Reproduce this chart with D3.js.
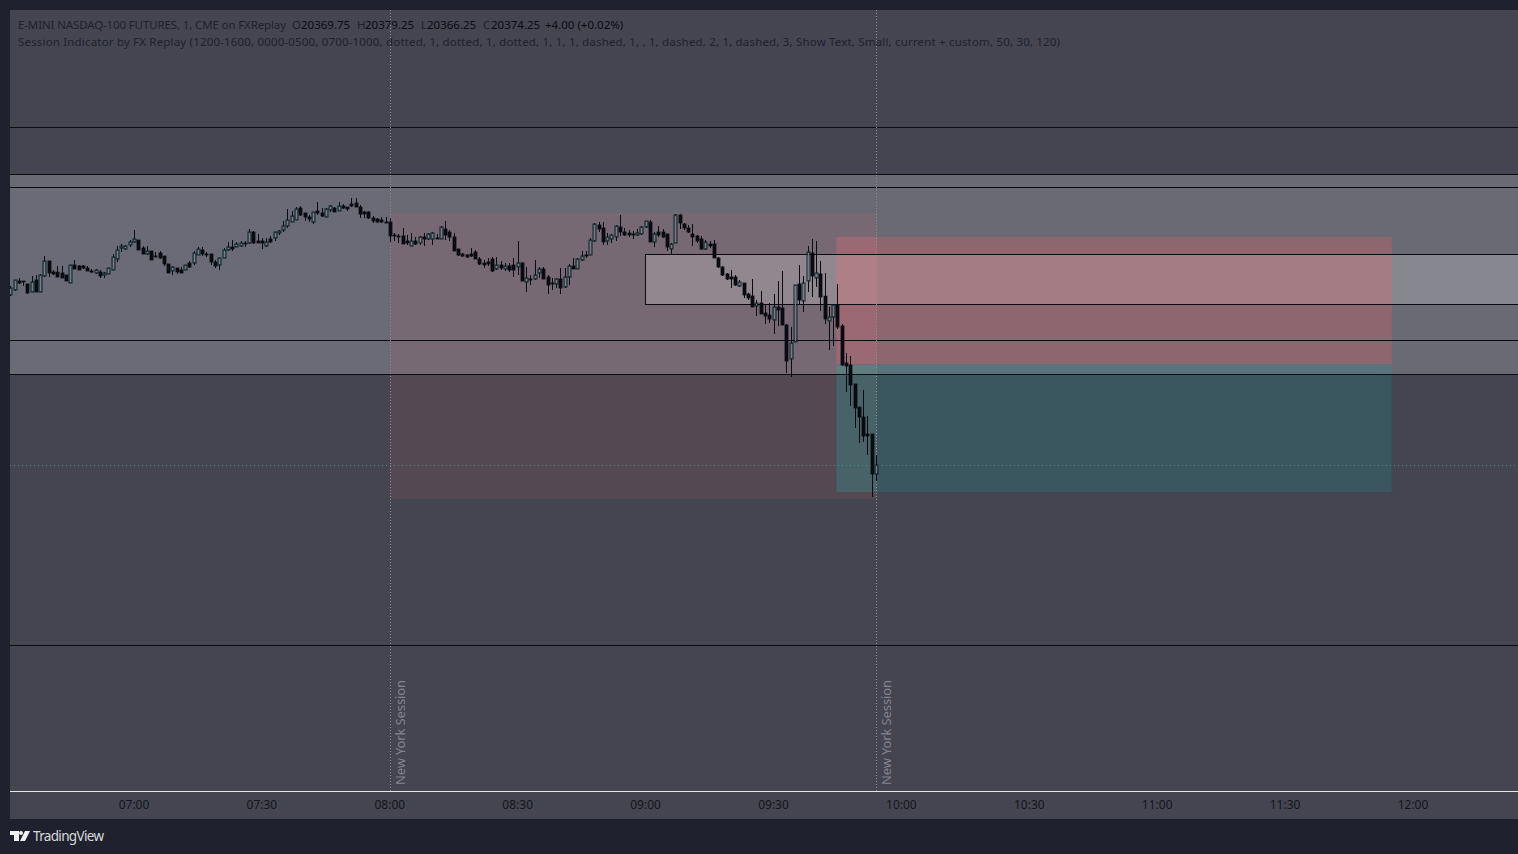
<!DOCTYPE html>
<html>
<head>
<meta charset="utf-8">
<script src="https://cdn.jsdelivr.net/npm/d3@7"></script>
<style>
html, body { margin: 0; padding: 0; background: #1f212e; overflow: hidden; }
svg { display: block; }
</style>
</head>
<body>
<script>
// prices are points above this base
const priceBase = 20300;
const firstMinute = 391; // 06:31

const opens = [
  159.25,161.75,166.25,166.25,164.75,160.75,166.75,160.75,168.75,176.25,
  170.75,170.75,170.25,169.25,165.25,174.25,173.75,173.75,172.75,171.25,
  170.25,170.75,169.25,169.75,171.75,177.25,182.75,182.25,184.25,185.75,
  186.75,182.75,179.75,181.25,178.75,180.25,178.75,174.75,171.25,172.75,
  171.75,171.75,175.25,175.25,179.25,181.75,179.75,179.75,175.75,174.25,
  177.75,181.75,183.25,183.25,183.75,185.25,185.25,190.75,186.25,186.25,
  183.75,187.25,187.75,190.25,191.75,193.75,195.75,196.75,202.75,200.25,
  198.25,195.75,201.25,200.25,198.25,201.75,202.75,201.25,203.75,203.25,
  204.75,205.25,203.25,200.75,200.75,197.75,197.25,196.75,195.75,195.75,
  189.25,188.75,188.75,186.25,183.75,186.25,185.25,188.25,187.25,187.25,
  187.75,187.25,192.25,190.75,188.25,182.25,179.75,179.25,179.75,180.75,
  177.25,175.25,175.75,177.25,172.25,174.25,172.25,173.75,174.25,173.25,
  175.25,165.75,167.25,167.25,170.25,172.25,168.25,165.25,164.75,167.25,
  163.25,168.25,173.75,172.25,176.75,179.25,179.25,186.25,194.25,192.75,
  186.25,187.25,188.25,193.25,190.75,190.25,189.75,189.25,189.75,193.25,
  195.75,185.75,190.75,190.75,189.75,182.25,185.25,199.25,194.75,192.75,
  189.75,188.75,187.25,182.25,184.75,184.75,177.75,173.25,169.75,168.25,
  168.25,163.75,165.25,159.75,158.75,153.75,155.25,150.25,149.25,146.75,
  153.25,152.75,144.25,127.25,135.75,164.75,156.25,166.25,180.25,167.75,
  169.75,158.75,146.25,148.25,154.25,143.75,125.25,124.25,114.75,103.25,
  98.25,89.75,89.75,69.75
];
const highs = [
  163.75,166.75,167.75,166.25,164.75,168.75,169.25,169.75,178.75,176.25,
  171.75,173.75,173.75,169.25,174.25,176.75,174.25,174.25,173.75,172.25,
  172.25,171.75,170.75,172.75,179.75,183.75,184.75,184.25,186.75,191.75,
  186.75,183.75,183.75,181.25,180.75,181.25,178.75,174.75,173.75,172.75,
  173.25,174.25,176.25,181.25,183.25,183.25,180.75,179.75,176.75,177.75,
  182.75,185.75,186.75,185.75,186.25,186.25,192.25,191.25,189.75,187.75,
  187.75,188.75,190.75,191.75,196.25,202.25,201.25,203.25,203.75,200.25,
  199.25,200.75,205.75,202.75,202.75,204.25,203.25,205.75,204.75,203.25,
  207.75,207.75,204.25,201.25,201.25,198.75,197.75,198.25,198.25,197.75,
  190.25,189.75,192.75,189.25,190.25,188.25,188.75,190.25,190.25,190.75,
  189.75,193.75,196.25,191.75,190.25,182.25,180.25,179.75,182.75,181.75,
  178.25,176.75,177.75,178.25,178.25,176.25,175.25,175.25,177.75,186.25,
  175.75,173.25,169.25,176.75,173.25,173.25,169.25,167.75,167.75,172.75,
  172.75,174.75,177.75,177.75,181.25,181.25,187.75,195.25,195.75,195.75,
  190.25,189.75,194.25,199.25,192.75,191.75,191.25,192.25,193.75,196.25,
  196.75,190.75,193.75,192.25,189.75,185.25,199.75,199.75,195.25,194.25,
  194.75,189.25,188.75,186.75,186.25,186.75,178.25,173.75,170.25,171.75,
  169.25,166.75,165.25,160.25,167.25,156.75,161.25,154.75,155.25,159.75,
  166.25,171.25,144.75,143.25,164.25,174.25,168.75,183.75,187.25,186.25,
  176.25,170.25,153.25,154.25,164.75,144.75,130.25,128.75,114.75,103.25,
  111.75,98.75,89.75,79.25
];
const lows = [
  158.75,161.25,164.75,163.75,159.75,160.75,160.75,160.75,168.25,168.25,
  169.25,168.25,167.75,166.25,165.25,172.25,171.75,172.25,171.25,170.25,
  169.75,167.75,167.75,169.75,171.75,175.75,180.75,181.75,183.25,185.25,
  181.75,179.75,179.25,176.75,178.25,177.25,173.75,170.25,169.25,169.75,
  170.25,171.75,172.75,174.25,179.25,178.75,178.25,174.25,172.75,171.75,
  177.75,181.25,181.25,183.25,183.25,183.25,184.75,184.75,185.25,182.25,
  183.25,185.25,186.25,189.25,190.75,192.75,195.75,196.75,198.75,196.25,
  195.75,194.75,199.25,198.25,198.25,200.75,200.75,201.25,202.25,201.25,
  203.25,203.25,197.75,197.75,197.25,195.25,195.25,195.25,195.25,185.75,
  186.25,185.25,184.75,184.25,183.75,184.25,184.25,183.75,186.75,184.25,
  187.25,187.25,186.75,186.25,181.25,178.75,178.25,177.75,178.25,177.25,
  174.25,172.75,173.75,170.75,171.75,171.75,171.25,170.75,168.25,169.25,
  166.25,160.75,164.25,166.75,167.75,167.25,159.75,161.75,162.75,159.75,
  162.75,164.25,172.25,172.25,176.25,177.75,179.25,185.75,190.75,184.25,
  184.25,185.25,186.25,188.75,188.75,188.25,187.25,188.75,189.25,192.75,
  185.75,183.25,188.25,187.75,181.25,179.75,185.25,192.25,191.75,190.25,
  183.75,185.25,181.75,181.75,182.75,177.75,172.75,168.75,166.75,162.75,
  163.75,163.25,157.75,156.75,153.25,148.75,149.75,144.75,145.25,139.75,
  143.75,144.25,120.25,118.25,135.75,154.25,150.75,160.75,158.25,163.25,
  151.25,144.75,131.75,133.75,142.25,123.75,110.75,103.75,92.75,85.25,
  85.75,79.25,58.25,66.25
];
const closes = [
  162.75,166.75,165.25,165.75,160.25,165.75,160.75,169.25,176.25,170.25,
  169.75,168.25,167.75,166.25,174.25,172.25,171.75,172.75,171.25,170.75,
  171.75,168.75,170.25,172.75,178.25,181.75,183.75,183.75,185.75,187.25,
  181.75,179.75,181.25,176.75,178.25,177.75,174.75,170.25,173.25,170.75,
  170.25,174.25,173.25,180.25,182.25,179.75,179.25,175.75,173.75,177.75,
  181.75,183.25,182.25,184.75,185.25,184.75,190.75,185.25,185.25,185.25,
  185.75,185.75,190.75,191.25,193.75,196.75,198.75,202.25,199.25,198.25,
  197.25,200.75,200.25,198.75,202.25,203.75,200.75,203.75,202.75,202.25,
  203.75,203.25,199.75,199.75,197.75,196.25,195.75,195.75,195.25,188.75,
  188.75,188.25,184.75,185.25,186.25,184.75,188.25,187.25,189.75,190.25,
  187.25,193.25,189.25,188.25,181.25,179.25,178.75,178.25,178.75,177.25,
  174.75,174.25,174.75,171.25,174.25,172.75,173.75,171.75,171.75,175.25,
  166.25,167.75,166.75,169.25,172.25,167.25,164.25,164.75,167.25,162.75,
  168.25,173.75,172.25,177.25,178.75,178.75,186.75,194.75,192.25,185.75,
  188.25,189.25,193.75,190.75,189.25,189.25,189.25,190.25,193.25,196.25,
  185.75,189.75,189.25,188.25,183.25,184.75,199.25,195.25,192.75,190.75,
  188.25,186.25,182.25,185.75,183.75,177.75,173.25,169.25,167.25,167.25,
  164.25,165.75,159.25,157.75,153.25,155.25,149.75,148.75,147.25,153.25,
  151.75,144.25,126.25,135.25,164.25,156.75,165.25,180.75,168.75,170.25,
  158.25,147.25,148.25,154.25,143.25,124.25,123.75,114.25,102.75,98.25,
  88.75,88.75,69.75,74.25
];

// horizontal levels, points above base
const levels = [243.25, 219.75, 213.25, 136.75, 119.75, -15.75];
// minutes since midnight
const axisTicks = [420, 450, 480, 510, 540, 570, 600, 630, 660, 690, 720];
const sessionMarks = [480, 594];
const sessionLabel = "New York Session";
const lastClose = 74.25;

// zones: [from minute, to minute, top, bottom, fill]
const zones = [
  [380, 760, 219.75, 119.75, "rgba(255,255,255,0.204)"],
  [380, 480, 213.25, 119.75, "rgba(130,150,220,0.035)"],
  [480, 594.25, 200.25, 57.25, "rgba(255,100,100,0.085)"],
  [540, 760, 179.75, 154.75, "rgba(255,255,255,0.2)"],
  [584.75, 715, 188.25, 124.75, "rgba(255,90,100,0.24)"],
  [584.75, 715, 124.25, 60.75, "rgba(15,160,160,0.19)"],
  [584.75, 594.25, 188.25, 124.75, "rgba(255,190,190,0.05)"],
  [584.75, 594.25, 124.25, 60.75, "rgba(90,230,180,0.08)"]
];
const rectBorder = [540, 760, 179.75, 154.75];

const legendLine1 = [
  ["O", 292, "#20212c"], ["20369.75", 301, "#0b0b12"],
  ["H", 357, "#20212c"], ["20379.25", 365, "#0b0b12"],
  ["L", 421, "#20212c"], ["20366.25", 427, "#0b0b12"],
  ["C", 483, "#20212c"], ["20374.25", 491, "#0b0b12"],
  ["+4.00 (+0.02%)", 545, "#0b0b12"]
];
const legendTitle = "E-MINI NASDAQ-100 FUTURES, 1, CME on FXReplay";
const legendLine2 = "Session Indicator by FX Replay (1200-1600, 0000-0500, 0700-1000, dotted, 1, dotted, 1, dotted, 1, 1, 1, dashed, 1, , 1, dashed, 2, 1, dashed, 3, Show Text, Small, current + custom, 50, 30, 120)";

const width = 1518, height = 854;
const plot = {left: 10, top: 10, right: 1518, bottom: 791, panelBottom: 819};

const day = m => new Date(2024, 0, 15, 0, Math.floor(m), (m % 1) * 60);

const x = d3.scaleTime()
    .domain([day(420), day(720)])
    .range([134, 1413]);

// 2px per point
const y = d3.scaleLinear()
    .domain([306.75, -93.25])
    .range([0, 800]);

const candles = opens.map((o, i) => ({
  minute: firstMinute + i, o, h: highs[i], l: lows[i], c: closes[i]
}));

const svg = d3.select("body").append("svg")
    .attr("width", width)
    .attr("height", height)
    .attr("font-family", "'Noto Sans', sans-serif");

svg.append("defs").append("clipPath")
    .attr("id", "plot-clip")
  .append("rect")
    .attr("x", plot.left)
    .attr("y", plot.top)
    .attr("width", plot.right - plot.left)
    .attr("height", plot.bottom - plot.top);

svg.append("rect")
    .attr("width", width)
    .attr("height", height)
    .attr("fill", "#1f212e");

svg.append("rect")
    .attr("x", plot.left)
    .attr("y", plot.top)
    .attr("width", plot.right - plot.left)
    .attr("height", plot.panelBottom - plot.top)
    .attr("fill", "#444551");

const chart = svg.append("g").attr("clip-path", "url(#plot-clip)");

chart.append("g")
  .selectAll("rect")
  .data(zones)
  .join("rect")
    .attr("x", d => x(day(d[0])))
    .attr("y", d => y(d[2]))
    .attr("width", d => x(day(d[1])) - x(day(d[0])))
    .attr("height", d => y(d[3]) - y(d[2]))
    .attr("fill", d => d[4]);

chart.append("g")
    .attr("stroke", "#0b0b12")
    .attr("stroke-width", 1)
  .selectAll("line")
  .data(levels)
  .join("line")
    .attr("x1", plot.left)
    .attr("x2", plot.right)
    .attr("y1", d => Math.round(y(d)) + 0.5)
    .attr("y2", d => Math.round(y(d)) + 0.5);

chart.append("rect")
    .attr("x", Math.round(x(day(rectBorder[0]))) - 0.5)
    .attr("y", Math.round(y(rectBorder[2])) + 0.5)
    .attr("width", x(day(rectBorder[1])) - x(day(rectBorder[0])))
    .attr("height", y(rectBorder[3]) - y(rectBorder[2]))
    .attr("fill", "none")
    .attr("stroke", "#0b0b12");

// crosshair on last close
chart.append("line")
    .attr("x1", plot.left)
    .attr("x2", plot.right)
    .attr("y1", Math.round(y(lastClose)) + 0.5)
    .attr("y2", Math.round(y(lastClose)) + 0.5)
    .attr("stroke", "#4f8a8c")
    .attr("stroke-dasharray", "1,3");

chart.append("g")
    .attr("stroke", "#8c8d99")
    .attr("stroke-dasharray", "1,2")
  .selectAll("line")
  .data(sessionMarks)
  .join("line")
    .attr("x1", d => Math.round(x(day(d))) + 0.5)
    .attr("x2", d => Math.round(x(day(d))) + 0.5)
    .attr("y1", plot.top)
    .attr("y2", plot.bottom);

chart.append("g")
    .attr("fill", "#82838e")
    .attr("font-size", 13)
  .selectAll("text")
  .data(sessionMarks)
  .join("text")
    .attr("transform", d => `translate(${Math.round(x(day(d))) + 15},785) rotate(-90)`)
    .attr("textLength", 105)
    .text(sessionLabel);

const candle = chart.append("g")
  .selectAll("g")
  .data(candles)
  .join("g")
    .attr("transform", d => `translate(${Math.round(x(day(d.minute)))},0)`);

candle.append("line")
    .attr("x1", 0.5)
    .attr("x2", 0.5)
    .attr("y1", d => y(d.h))
    .attr("y2", d => y(d.l))
    .attr("stroke", "#0a0a12");

// rising bodies are hollow, so the wick stops at the body
candle.filter(d => d.c >= d.o).append("rect")
    .attr("x", 0)
    .attr("y", d => y(d.c) + 0.5)
    .attr("width", 1)
    .attr("height", d => Math.max(0, y(d.o) - y(d.c) - 1))
    .attr("fill", "#7a7a84");

candle.append("rect")
    .attr("x", -1)
    .attr("y", d => y(Math.max(d.o, d.c)))
    .attr("width", 3)
    .attr("height", d => Math.max(1, Math.abs(y(d.o) - y(d.c))))
    .attr("fill", d => d.c >= d.o ? "none" : "#0a0a12")
    .attr("stroke", d => d.c >= d.o ? "#08262a" : "#0a0a12")
    .attr("stroke-width", d => d.c >= d.o ? 1 : 0.8);

const axis = d3.axisBottom(x)
    .tickValues(axisTicks.map(day))
    .tickFormat(d3.timeFormat("%H:%M"))
    .tickSize(0)
    .tickPadding(9);

const axisG = svg.append("g")
    .attr("transform", `translate(-0.5,${plot.bottom})`)
    .call(axis);

axisG.select(".domain").remove();
axisG.selectAll("text")
    .attr("font-family", "'Noto Sans', sans-serif")
    .attr("font-size", 12)
    .attr("fill", "#14151c");

svg.append("line")
    .attr("x1", plot.left)
    .attr("x2", plot.right)
    .attr("y1", plot.bottom + 0.5)
    .attr("y2", plot.bottom + 0.5)
    .attr("stroke", "#e6e6ea");

const legend = svg.append("g").attr("font-size", 11.5);

legend.append("text")
    .attr("x", 18)
    .attr("y", 29)
    .attr("fill", "#20212c")
    .attr("textLength", 268)
    .text(legendTitle);

legend.selectAll("text.l1")
  .data(legendLine1)
  .join("text")
    .attr("class", "l1")
    .attr("x", d => d[1])
    .attr("y", 29)
    .attr("fill", d => d[2])
    .text(d => d[0]);

legend.append("text")
    .attr("x", 18)
    .attr("y", 46)
    .attr("fill", "#20212c")
    .attr("textLength", 1042)
    .text(legendLine2);

// TradingView mark
svg.append("path")
    .attr("transform", "translate(10,830)")
    .attr("fill", "#f0f0f2")
    .attr("d", "M0 1H9V11H4V5H0Z M11 1A2 2 0 1 1 11 5A2 2 0 1 1 11 1Z M15 1H20L15 11H10Z");

svg.append("text")
    .attr("x", 33)
    .attr("y", 841)
    .attr("fill", "#d8d8dc")
    .attr("font-size", 13.5)
    .attr("textLength", 71)
    .text("TradingView");
</script>
</body>
</html>
